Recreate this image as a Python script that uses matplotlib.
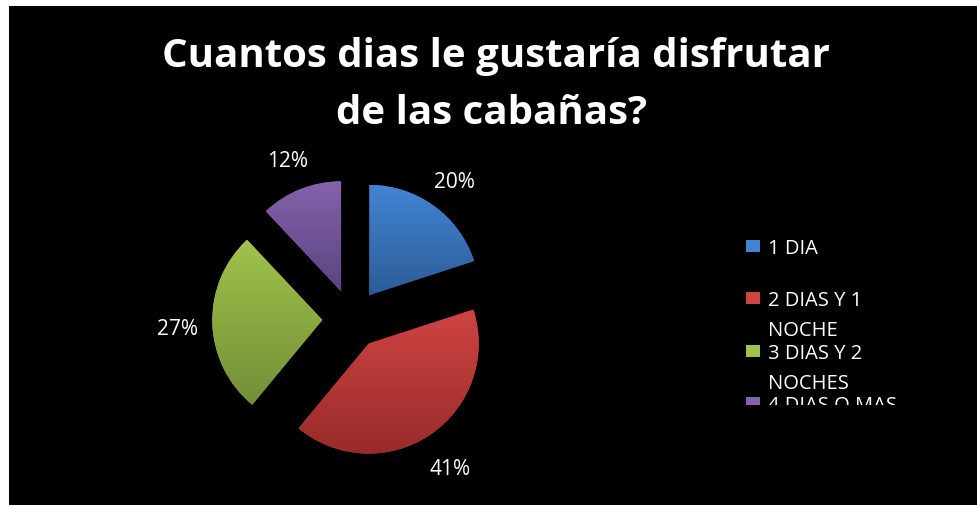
import matplotlib
matplotlib.use("Agg")
import matplotlib.pyplot as plt
import numpy as np
from matplotlib.patches import Rectangle
from matplotlib.transforms import Bbox, TransformedBbox
from matplotlib.colors import LinearSegmentedColormap

plt.rcParams['font.family'] = ['Open Sans', 'DejaVu Sans']

title_lines = ["Cuantos dias le gustaría disfrutar", "de las cabañas?"]
categories = ["1 DIA", "2 DIAS Y 1\nNOCHE", "3 DIAS Y 2\nNOCHES", "4 DIAS O MAS"]
values = [20, 41, 27, 12]
# top / bottom shade of each slice
tops = ["#4384d2", "#cf4441", "#a0c24c", "#8462ac"]
bottoms = ["#2c5c98", "#972b2a", "#738f37", "#5c4480"]

W, H = 977, 506
fig = plt.figure(figsize=(W / 100, H / 100), dpi=100, facecolor="white")


def px(x, y):
    # pixel position measured from the top-left corner -> figure fraction
    return x / W, 1 - y / H


# black chart area
fig.patches.append(Rectangle(px(9, 506), 1 - 9 / W, (506 - 7) / H,
                             transform=fig.transFigure, facecolor="black",
                             edgecolor="none", zorder=-5))

# title
fig.text(*px(496, 67), title_lines[0], color="white", fontsize=29,
         fontweight="bold", ha="center", va="baseline")
fig.text(*px(492, 124), title_lines[1], color="white", fontsize=29,
         fontweight="bold", ha="center", va="baseline")

# pie
cx, cy, r = 352, 320, 110
half = 1.6 * r
ax = fig.add_axes([(cx - half) / W, (H - cy - half) / H, 2 * half / W, 2 * half / H])
ax.set_xlim(-1.6, 1.6)
ax.set_ylim(-1.6, 1.6)
ax.set_aspect("equal")
ax.axis("off")

wedges, _, pcts = ax.pie(values, startangle=90, counterclock=False,
                         explode=[0.27] * len(values), radius=1,
                         colors=tops, autopct="%1.0f%%", pctdistance=1.32,
                         labels=None, wedgeprops=dict(linewidth=0))
for t in pcts:
    t.set_color("white")
    t.set_fontsize(15)
    x, y = t.get_position()
    t.set_position((x, y - 0.04))

grad = np.linspace(0, 1, 256).reshape(-1, 1)
for w, c0, c1 in zip(wedges, tops, bottoms):
    cmap = LinearSegmentedColormap.from_list("shade", [c0, c1])
    verts = w.get_patch_transform().transform(w.get_path().vertices)
    x0, y0 = verts.min(axis=0)
    x1, y1 = verts.max(axis=0)
    im = ax.imshow(grad, cmap=cmap, extent=[x0, x1, y0, y1], origin="upper",
                   aspect="auto", zorder=2, interpolation="bilinear")
    im.set_clip_path(w)
ax.set_xlim(-1.6, 1.6)
ax.set_ylim(-1.6, 1.6)

# legend, cut off at the bottom of its box
clip = TransformedBbox(Bbox([[0, 1 - 406 / H], [1, 1]]), fig.transFigure)
for i, (label, c0, c1) in enumerate(zip(categories, tops, bottoms)):
    base = 254 + 52.4 * i
    sq = Rectangle(px(746, base - 1), 14 / W, 12 / H, transform=fig.transFigure,
                   facecolor=c0, edgecolor="none", zorder=3)
    sq.set_clip_box(clip)
    fig.patches.append(sq)
    for j, line in enumerate(label.split("\n")):
        t = fig.text(*px(768, base + 30 * j), line, color="white", fontsize=14.5,
                     ha="left", va="baseline")
        t.set_clip_box(clip)
        t.set_clip_on(True)

fig.savefig("out.png", dpi=100, facecolor="white")
